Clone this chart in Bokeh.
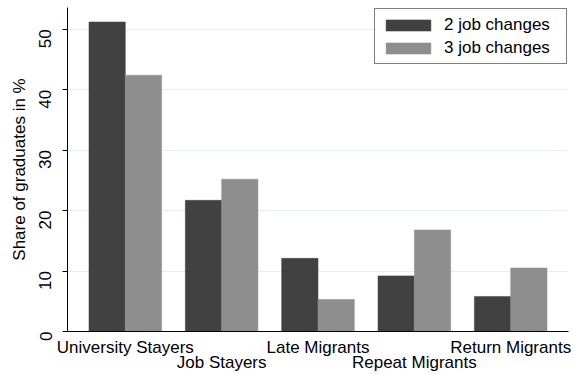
import math
from bokeh.plotting import figure
from bokeh.models import (ColumnDataSource, Range1d, FixedTicker, LinearAxis,
                          Legend, LegendItem, Grid)
from bokeh.transform import dodge
from bokeh.embed import file_html
from bokeh.resources import INLINE

categories = ["University Stayers", "Job Stayers", "Late Migrants",
              "Repeat Migrants", "Return Migrants"]
two_changes = [51.2, 21.7, 12.1, 9.2, 5.8]
three_changes = [42.4, 25.2, 5.3, 16.8, 10.5]
series_names = ["2 job changes", "3 job changes"]
y_ticks = [0, 10, 20, 30, 40, 50]

positions = list(range(1, len(categories) + 1))
src = ColumnDataSource(dict(x=positions, a=two_changes, b=three_changes))

FONT = "Liberation Sans"
FS = "17px"
DARK = "#414141"
LIGHT = "#8e8e8e"
BW = 0.377

p = figure(width=575, height=374, output_backend="svg", toolbar_location=None,
           x_range=Range1d(0.4, 5.6), y_range=Range1d(0, 53.6),
           min_border_left=67, min_border_right=7, min_border_top=7,
           min_border_bottom=0, x_axis_type=None, y_axis_type=None)
p.outline_line_color = None
p.background_fill_color = "white"
p.border_fill_color = "white"

r2 = p.vbar(x=dodge("x", -BW / 2, range=p.x_range), top="a", width=BW,
            source=src, fill_color=DARK, line_color=DARK, line_width=0.5)
r3 = p.vbar(x=dodge("x", BW / 2, range=p.x_range), top="b", width=BW,
            source=src, fill_color=LIGHT, line_color=LIGHT, line_width=0.5)

# y axis
ya = LinearAxis(ticker=FixedTicker(ticks=y_ticks))
ya.axis_label = "Share of graduates in %"
ya.axis_label_text_font = FONT
ya.axis_label_text_font_size = FS
ya.axis_label_text_font_style = "normal"
ya.axis_label_text_color = "black"
ya.axis_label_standoff = 2
ya.major_label_text_font = FONT
ya.major_label_text_font_size = FS
ya.major_label_text_color = "black"
ya.major_label_orientation = math.pi / 2
ya.major_label_standoff = 17
ya.major_tick_out = 5
ya.major_tick_in = 0
ya.minor_tick_out = 0
ya.minor_tick_in = 0
ya.axis_line_color = "black"
ya.major_tick_line_color = "black"
p.add_layout(ya, "left")


def make_xaxis(idx, standoff, show_line):
    ax = LinearAxis(ticker=FixedTicker(ticks=[positions[i] for i in idx]))
    ax.major_label_overrides = {positions[i]: categories[i] for i in idx}
    ax.major_label_text_font = FONT
    ax.major_label_text_font_size = FS
    ax.major_label_text_color = "black"
    ax.major_label_standoff = standoff
    ax.major_tick_line_color = None
    ax.major_tick_out = 0
    ax.major_tick_in = 0
    ax.minor_tick_line_color = None
    ax.minor_tick_out = 0
    ax.minor_tick_in = 0
    ax.axis_line_color = "black" if show_line else None
    return ax


p.add_layout(make_xaxis([0, 2, 4], 6, True), "below")
p.add_layout(make_xaxis([1, 3], -7, False), "below")

grid = Grid(dimension=1, ticker=FixedTicker(ticks=y_ticks[1:]))
grid.grid_line_color = "#e6eff0"
grid.grid_line_width = 1
p.add_layout(grid)

legend = Legend(items=[LegendItem(label=series_names[0], renderers=[r2]),
                       LegendItem(label=series_names[1], renderers=[r3])],
                location=(307, 267))
legend.label_text_font = FONT
legend.label_text_font_size = FS
legend.label_text_color = "black"
legend.glyph_width = 56
legend.glyph_height = 14
legend.label_height = 21
legend.label_width = 117
legend.label_standoff = 8
legend.padding = 5
legend.spacing = 2
legend.margin = 0
legend.border_line_color = "black"
legend.border_line_width = 1
legend.background_fill_color = "white"
legend.background_fill_alpha = 1
p.add_layout(legend, "center")

open("out.html", "w").write(file_html(p, INLINE))
